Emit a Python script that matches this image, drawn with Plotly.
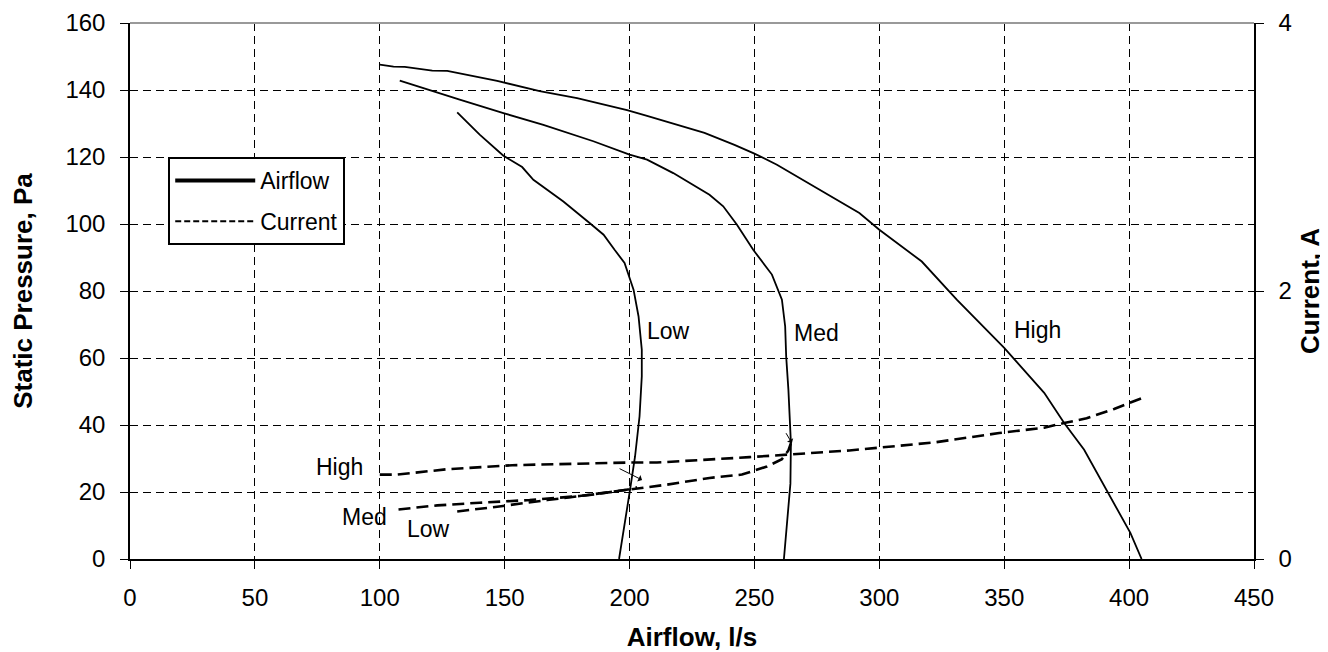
import plotly.graph_objects as go

# ---- data ----
high_air_x = [100, 105.5, 110, 121, 127, 131.5, 139, 147, 155, 164, 179, 199, 207, 219, 230, 242, 250, 259, 276, 292, 300, 317, 331, 350, 366, 374, 382, 392.5, 400.5, 405]
high_air_p = [147.6, 147.0, 146.9, 145.8, 145.7, 145.1, 143.9, 142.7, 141.3, 139.7, 137.6, 134.0, 132.3, 129.6, 127.2, 123.6, 121.0, 117.7, 110.2, 103.3, 98.3, 88.8, 77.4, 63.0, 49.6, 40.6, 32.6, 18.7, 7.8, 0]

med_air_x = [108, 121, 132, 149.5, 165.5, 185.5, 200, 207, 217.5, 232, 237.5, 243, 249.5, 257, 261, 262.3, 262.7, 263.6, 264.3, 264.6, 264.4, 263, 261.8]
med_air_p = [142.8, 139.6, 137.1, 133.1, 129.6, 124.7, 120.7, 119.2, 115.2, 108.7, 105.3, 99.8, 92.3, 84.9, 77.4, 69.4, 60.5, 50.5, 41.6, 34.6, 22.5, 11.5, 0]

low_air_x = [131, 140, 149.5, 157, 161.5, 173.5, 184, 189.6, 194, 198, 201.6, 203.6, 204.9, 204.9, 204, 202.2, 200.2, 195.8]
low_air_p = [133.3, 126.7, 120.4, 117, 113.2, 106.7, 100.3, 96.8, 92.3, 88.4, 80.4, 72.4, 62.5, 54.5, 42.6, 30.6, 20.7, 0]

high_cur_x = [100, 107, 127, 153, 200, 211, 248, 288, 308, 322, 348, 366, 374, 383, 394, 405]
high_cur_a = [0.63, 0.63, 0.67, 0.70, 0.72, 0.72, 0.76, 0.81, 0.845, 0.87, 0.94, 0.98, 1.015, 1.05, 1.12, 1.2]

med_cur_x = [107.5, 123, 140, 160, 180, 200, 206, 215, 232, 245, 255, 261, 263.6, 264.6]
med_cur_a = [0.37, 0.40, 0.42, 0.44, 0.47, 0.52, 0.53, 0.555, 0.605, 0.63, 0.69, 0.745, 0.81, 0.865]

low_cur_x = [131, 147, 167, 187, 200, 203]
low_cur_a = [0.355, 0.39, 0.44, 0.485, 0.52, 0.535]

x_ticks = [0, 50, 100, 150, 200, 250, 300, 350, 400, 450]
y_ticks = [0, 20, 40, 60, 80, 100, 120, 140, 160]
y2_ticks = [0, 2, 4]

FONT = "Arial, Liberation Sans, sans-serif"
FS = 23      # annotations / legend
TFS = 24     # tick labels
HFS = 26     # axis titles

fig = go.Figure()

for xs, ys in [(high_air_x, high_air_p), (med_air_x, med_air_p), (low_air_x, low_air_p)]:
    fig.add_trace(go.Scatter(x=xs, y=ys, mode="lines", line=dict(color="black", width=1.8),
                             showlegend=False, hoverinfo="skip"))

for xs, ys in [(high_cur_x, high_cur_a), (med_cur_x, med_cur_a), (low_cur_x, low_cur_a)]:
    fig.add_trace(go.Scatter(x=xs, y=ys, mode="lines", yaxis="y2",
                             line=dict(color="black", width=2.6, dash="12px,6px"),
                             showlegend=False, hoverinfo="skip"))

# legend entries
fig.add_trace(go.Scatter(x=[None], y=[None], mode="lines", name="Airflow", legendgroup="a",
                         line=dict(color="black", width=4)))
fig.add_trace(go.Scatter(x=[None], y=[None], mode="lines", name="Current", legendgroup="c",
                         line=dict(color="black", width=2, dash="6px,3px")))

# the page body has an 8px margin, so the figure is 16px smaller and margins offset by 8
fig.update_layout(
    width=1320, height=644,
    margin=dict(l=122, r=74, t=15, b=93),
    paper_bgcolor="white", plot_bgcolor="white",
    font=dict(family=FONT, size=FS, color="black"),
    xaxis=dict(range=[0, 450], tickvals=x_ticks, showgrid=True, gridcolor="black", gridwidth=1,
               griddash="8px,5px", zeroline=False, showline=True, linecolor="black", linewidth=1.5,
               ticks="outside", ticklen=8, tickcolor="black", ticklabelstandoff=8,
               tickfont=dict(size=TFS), automargin=False,
               title=dict(text="<b>Airflow, l/s</b>", font=dict(size=HFS), standoff=20)),
    yaxis=dict(range=[0, 160], tickvals=y_ticks, showgrid=True, gridcolor="black", gridwidth=1,
               griddash="8px,5px", zeroline=False, showline=True, linecolor="black", linewidth=1.5,
               ticks="outside", ticklen=8, tickcolor="black", ticklabelstandoff=10,
               tickfont=dict(size=TFS), automargin=False,
               title=dict(text="<b>Static Pressure, Pa</b>", font=dict(size=HFS), standoff=32)),
    yaxis2=dict(range=[0, 4], tickvals=y2_ticks, overlaying="y", side="right", showgrid=False,
                zeroline=False, showline=True, linecolor="black", linewidth=1.5,
                ticks="outside", ticklen=8, tickcolor="black", ticklabelstandoff=10,
                tickfont=dict(size=TFS), automargin=False,
                title=dict(text="<b>Current, A</b>", font=dict(size=HFS), standoff=10)),
    legend=dict(x=0.034, y=0.75, xanchor="left", yanchor="top", bgcolor="white",
                bordercolor="black", borderwidth=2, font=dict(size=FS), itemwidth=80,
                tracegroupgap=8, entrywidth=115, entrywidthmode="pixels"),
    showlegend=True,
)

# top border of plot area (grey)
fig.add_shape(type="line", xref="paper", yref="paper", x0=0, x1=1, y0=1, y1=1,
              line=dict(color="#999999", width=2), layer="above")

labels = [
    ("Low", 215.6, 68.2, "y"), ("Med", 274.8, 67.5, "y"), ("High", 363.4, 68.4, "y"),
    ("High", 83.8, 27.5, "y"), ("Med", 93.8, 12.6, "y"), ("Low", 119.5, 8.9, "y"),
]
for t, x, y, yr in labels:
    fig.add_annotation(text=t, x=x, y=y, xref="x", yref=yr, showarrow=False,
                       font=dict(size=FS, color="black"))

# small pointer arrows
for (x0, a0, x1, a1) in [(195.4, 0.68, 205, 0.59), (262.3, 0.95, 265, 0.865)]:
    fig.add_annotation(x=x1, y=a1, ax=x0, ay=a0, xref="x", yref="y2", axref="x", ayref="y2",
                       text="", showarrow=True, arrowhead=1, arrowsize=1.2, arrowwidth=1,
                       arrowcolor="black")

fig.write_html("out.html")
